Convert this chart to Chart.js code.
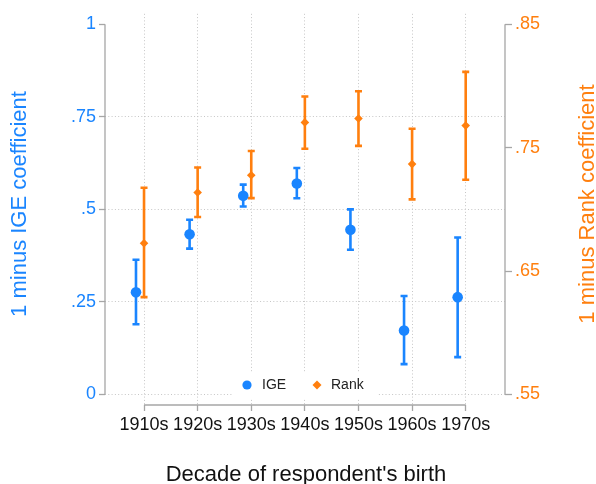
<!DOCTYPE html>
<html lang="en">
<head>
  <meta charset="UTF-8" />
  <title>1 minus IGE and Rank coefficients by decade of birth</title>
  <script src="https://cdn.jsdelivr.net/npm/chart.js"></script>
  <style>
    body {
      margin: 0;
      background: #fff;
    }
    .chart-box {
      width: 596px;
      height: 484px;
    }
  </style>
</head>
<body>
  <div class="chart-box">
    <canvas id="mobilityChart"></canvas>
  </div>

  <script>
    // decades of respondent's birth
    const decadeLabels = ["1910s", "1920s", "1930s", "1940s", "1950s", "1960s", "1970s"];
    const decadeYears = [1910, 1920, 1930, 1940, 1950, 1960, 1970];

    // 1 minus IGE coefficient, with 95% interval
    const igeValues = [0.276, 0.433, 0.537, 0.570, 0.445, 0.173, 0.263];
    const igeLow = [0.190, 0.394, 0.508, 0.530, 0.391, 0.082, 0.101];
    const igeHigh = [0.364, 0.472, 0.567, 0.612, 0.500, 0.266, 0.424];

    // 1 minus Rank coefficient, with 95% interval
    const rankValues = [0.6726, 0.7137, 0.7277, 0.7705, 0.7737, 0.7367, 0.7679];
    const rankLow = [0.6289, 0.6938, 0.7091, 0.7491, 0.7515, 0.7081, 0.7240];
    const rankHigh = [0.7176, 0.7340, 0.7473, 0.7915, 0.7957, 0.7653, 0.8114];

    const leftTicks = [0, 0.25, 0.5, 0.75, 1];
    const rightTicks = [0.55, 0.65, 0.75, 0.85];

    const BLUE = "#1a85ff";
    const ORANGE = "#ff7f0e";
    const AXIS_GREY = "#a6a6a6";
    const GRID_GREY = "#c6c6c6";
    const FONT = "'Liberation Sans', Arial, sans-serif";
    const IGE_SHIFT = -1.5; // IGE markers sit just left of the decade tick

    const fmt = v => v === 0 ? "0" : v === 1 ? "1" : String(v).replace(/^0\./, ".");

    // vertical error bars with caps, read from dataset.errLow / errHigh
    const errorBars = {
      id: "errorBars",
      beforeDatasetsDraw(chart) {
        const ctx = chart.ctx;
        chart.data.datasets.forEach(ds => {
          const xs = chart.scales.x;
          const ys = chart.scales[ds.yAxisID];
          ctx.save();
          ctx.strokeStyle = ds.backgroundColor;
          ctx.lineWidth = 2.6;
          ds.data.forEach((p, i) => {
            const x = xs.getPixelForValue(p.x);
            const y1 = ys.getPixelForValue(ds.errLow[i]);
            const y2 = ys.getPixelForValue(ds.errHigh[i]);
            ctx.beginPath();
            ctx.moveTo(x, y1);
            ctx.lineTo(x, y2);
            ctx.moveTo(x - 3.5, y1);
            ctx.lineTo(x + 3.5, y1);
            ctx.moveTo(x - 3.5, y2);
            ctx.lineTo(x + 3.5, y2);
            ctx.stroke();
          });
          ctx.restore();
        });
      }
    };

    // axis lines over the tick range only, titles and the inside legend
    const frame = {
      id: "frame",
      afterDraw(chart) {
        const ctx = chart.ctx;
        const { x, yL, yR } = chart.scales;
        const area = chart.chartArea;
        ctx.save();
        ctx.strokeStyle = AXIS_GREY;
        ctx.lineWidth = 1.3;
        ctx.beginPath();
        ctx.moveTo(area.left, yL.getPixelForValue(0));
        ctx.lineTo(area.left, yL.getPixelForValue(1));
        ctx.moveTo(area.right, yR.getPixelForValue(0.55));
        ctx.lineTo(area.right, yR.getPixelForValue(0.85));
        ctx.moveTo(x.getPixelForValue(1910), area.bottom);
        ctx.lineTo(x.getPixelForValue(1970), area.bottom);
        ctx.stroke();

        // titles
        ctx.font = "22px " + FONT;
        ctx.textAlign = "center";
        ctx.textBaseline = "alphabetic";
        ctx.fillStyle = "#111";
        ctx.fillText("Decade of respondent's birth", 306, 481);

        ctx.save();
        ctx.translate(26, 204);
        ctx.rotate(-Math.PI / 2);
        ctx.fillStyle = BLUE;
        ctx.fillText("1 minus IGE coefficient", 0, 0);
        ctx.restore();

        ctx.save();
        ctx.translate(594, 204);
        ctx.rotate(-Math.PI / 2);
        ctx.fillStyle = ORANGE;
        ctx.fillText("1 minus Rank coefficient", 0, 0);
        ctx.restore();

        // legend
        const ly = 385;
        ctx.fillStyle = "#fff";
        ctx.fillRect(232, 372, 145, 26);
        ctx.fillStyle = BLUE;
        ctx.beginPath();
        ctx.arc(247, ly, 4.6, 0, Math.PI * 2);
        ctx.fill();
        ctx.fillStyle = ORANGE;
        ctx.beginPath();
        ctx.moveTo(317, ly - 4.5);
        ctx.lineTo(321.5, ly);
        ctx.lineTo(317, ly + 4.5);
        ctx.lineTo(312.5, ly);
        ctx.closePath();
        ctx.fill();
        ctx.font = "14px " + FONT;
        ctx.textAlign = "left";
        ctx.textBaseline = "middle";
        ctx.fillStyle = "#222";
        ctx.fillText("IGE", 262, ly);
        ctx.fillText("Rank", 331, ly);
        ctx.restore();
      }
    };

    new Chart(document.getElementById("mobilityChart"), {
      type: "scatter",
      data: {
        datasets: [
          {
            label: "IGE",
            data: decadeYears.map((yr, i) => ({ x: yr + IGE_SHIFT, y: igeValues[i] })),
            errLow: igeLow,
            errHigh: igeHigh,
            yAxisID: "yL",
            backgroundColor: BLUE,
            borderWidth: 0,
            pointStyle: "circle",
            pointRadius: 5.3
          },
          {
            label: "Rank",
            data: decadeYears.map((yr, i) => ({ x: yr, y: rankValues[i] })),
            errLow: rankLow,
            errHigh: rankHigh,
            yAxisID: "yR",
            backgroundColor: ORANGE,
            borderWidth: 0,
            pointStyle: "rectRot",
            pointRadius: 4.3
          }
        ]
      },
      options: {
        responsive: true,
        maintainAspectRatio: false,
        animation: false,
        layout: { padding: { top: 6, left: 0, right: 0, bottom: 0 } },
        plugins: {
          legend: { display: false },
          tooltip: { enabled: false }
        },
        scales: {
          x: {
            type: "linear",
            min: 1902.72,
            max: 1977.33,
            afterBuildTicks: s => { s.ticks = decadeYears.map(v => ({ value: v })); },
            afterFit: s => { s.height = 79; },
            ticks: {
              autoSkip: false,
              maxRotation: 0,
              padding: 3,
              color: "#111",
              font: { family: FONT, size: 18 },
              callback: v => decadeLabels[decadeYears.indexOf(v)]
            },
            grid: {
              color: GRID_GREY,
              tickColor: AXIS_GREY,
              tickLength: 6,
              tickWidth: 1.3
            },
            border: { display: false, dash: [1, 2.3] }
          },
          yL: {
            position: "left",
            min: -0.0283,
            max: 1.0283,
            afterBuildTicks: s => { s.ticks = leftTicks.map(v => ({ value: v })); },
            afterFit: s => { s.width = 105; },
            ticks: {
              padding: 3,
              color: BLUE,
              font: { family: FONT, size: 18 },
              callback: v => fmt(v)
            },
            grid: {
              color: c => c.tick && c.tick.value === 1 ? "rgba(0,0,0,0)" : GRID_GREY,
              tickColor: AXIS_GREY,
              tickLength: 6,
              tickWidth: 1.3
            },
            border: { display: false, dash: [1, 2.3] }
          },
          yR: {
            position: "right",
            min: 0.5415,
            max: 0.8585,
            afterBuildTicks: s => { s.ticks = rightTicks.map(v => ({ value: v })); },
            afterFit: s => { s.width = 91; },
            ticks: {
              padding: 3,
              color: ORANGE,
              font: { family: FONT, size: 18 },
              callback: v => fmt(v)
            },
            grid: {
              drawOnChartArea: false,
              tickColor: AXIS_GREY,
              tickLength: 7,
              tickWidth: 1.3
            },
            border: { display: false }
          }
        }
      },
      plugins: [errorBars, frame]
    });
  </script>
</body>
</html>
